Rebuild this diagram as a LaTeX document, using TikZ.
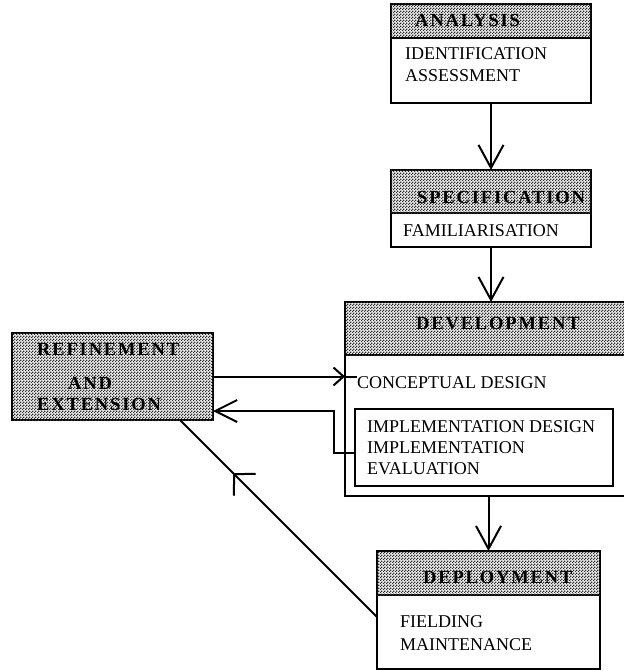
\documentclass[tikz,border=0pt]{standalone}
\usepackage{fontspec}
\setmainfont{Liberation Serif}
\newfontfamily\hdfont[LetterSpace=10]{Liberation Serif}
\usetikzlibrary{arrows.meta,decorations.markings,patterns.meta}

% fine checkerboard screen for the title bars
\pgfdeclarepattern{
  name=screen, type=uncolored,
  bottom left={\pgfpointorigin}, top right={\pgfpoint{2.6pt}{2.6pt}},
  tile size={\pgfpoint{2.6pt}{2.6pt}},
  code={
    \pgfpathrectangle{\pgfpointorigin}{\pgfpoint{1.3pt}{1.3pt}}
    \pgfpathrectangle{\pgfpoint{1.3pt}{1.3pt}}{\pgfpoint{1.3pt}{1.3pt}}
    \pgfusepath{fill}
  }
}

\tikzset{
  box/.style={draw, line width=2pt, inner sep=0pt, outer sep=0pt},
  hdbox/.style={draw, line width=2pt, inner sep=0pt, outer sep=0pt,
    fill=black!8, postaction={pattern=screen, pattern color=black!82}},
  body/.style={inner sep=0pt, anchor=base west, font=\fontsize{18}{22}\selectfont},
  head/.style={inner sep=0pt, anchor=base west, font=\fontsize{18.5}{22}\selectfont\hdfont\bfseries},
  link/.style={line width=2pt},
  downarr/.style={link, -{Straight Barb[length=23pt,width=25pt,line width=2pt]}},
  backarr/.style={link, -{Straight Barb[length=22pt,width=22pt,line width=2pt]}},
  smallarr/.style={link, -{Straight Barb[length=10pt,width=18pt,line width=2pt]}},
  midarr/.style={link, postaction={decorate}, decoration={markings,
    mark=at position 0.73 with {\arrow{Straight Barb[length=15pt,width=31pt,line width=2pt]}}}}
}

\begin{document}
\begin{tikzpicture}[x=1pt,y=-1pt]
\useasboundingbox (0,0) rectangle (623,671);

% ANALYSIS
\node[box, minimum width=200pt, minimum height=99pt] (ana) at (491,53.5) {};
\node[hdbox, minimum width=200pt, minimum height=34pt] (anahd) at (491,21) {};
\node[head] (anat) at (415,27) {ANALYSIS};
\node[body] (ident) at (405,60) {IDENTIFICATION};
\node[body] (assess) at (405,82) {ASSESSMENT};

% SPECIFICATION (title runs into the right border)
\node[box, minimum width=200pt, minimum height=77pt] (spec) at (491,208.5) {};
\node[hdbox, minimum width=200pt, minimum height=43pt] (spechd) at (491,191.5) {};
\begin{scope}
  \clip (spechd.north west) rectangle (spechd.south east);
  \node[head] (spect) at (417,203) {SPECIFICATION};
\end{scope}
\node[body] (famil) at (403,236) {FAMILIARISATION};

% DEVELOPMENT
\node[box, minimum width=315pt, minimum height=194pt] (dev) at (502.5,399) {};
\node[hdbox, minimum width=315pt, minimum height=53pt] (devhd) at (502.5,328.5) {};
\node[head] (devt) at (416,329) {DEVELOPMENT};
\node[body] (concept) at (357,388) {CONCEPTUAL DESIGN};
\node[box, minimum width=258pt, minimum height=77pt] (inner) at (484,447.5) {};
\node[body] (impd) at (367,432) {IMPLEMENTATION DESIGN};
\node[body] (impl) at (367,453) {IMPLEMENTATION};
\node[body] (eval) at (367,474) {EVALUATION};

% DEPLOYMENT
\node[box, minimum width=223pt, minimum height=118pt] (dep) at (488.5,610) {};
\node[hdbox, minimum width=223pt, minimum height=44pt] (dephd) at (488.5,573) {};
\node[head] (dept) at (423,583) {DEPLOYMENT};
\node[body] (field) at (400,627) {FIELDING};
\node[body] (maint) at (400,650) {MAINTENANCE};

% REFINEMENT AND EXTENSION
\node[hdbox, minimum width=201pt, minimum height=87pt] (ref) at (112.5,376.5) {};
\node[head] (reft1) at (37,355) {REFINEMENT};
\node[head] (reft2) at (68,389) {AND};
\node[head] (reft3) at (37,410) {EXTENSION};

% main sequence
\draw[downarr] (ana.south) -- (spec.north);
\draw[downarr] (spec.south) -- (spec.south |- dev.north);
\draw[downarr] (dep.north |- dev.south) -- (dep.north);

% refinement loop
\coordinate (cin) at (ref.east -| dev.west);
\coordinate (ctick) at (concept.west |- ref.east);
\draw[smallarr] (ref.east) -- (cin);
\draw[link] (cin) -- (ctick);

\coordinate (bend) at (334,411);
\draw[backarr] ([yshift=-5.5pt]inner.west) -| (bend) -- (bend -| ref.east);

\draw[midarr] ([yshift=-7pt]dep.west) -- ([xshift=67.5pt]ref.south);
\end{tikzpicture}
\end{document}
